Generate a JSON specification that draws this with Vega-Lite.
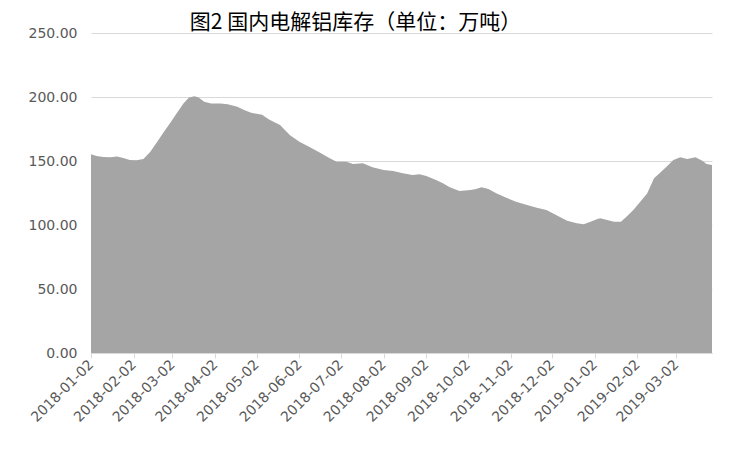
{
  "$schema": "https://vega.github.io/schema/vega-lite/v6.json",
  "autosize": "none",
  "width": 621,
  "height": 320,
  "padding": {"left": 91, "top": 33, "right": 28, "bottom": 97},
  "background": "white",
  "title": {
    "text": "图2  国内电解铝库存（单位：万吨）",
    "font": "Noto Sans CJK SC",
    "fontSize": 21,
    "fontWeight": "normal",
    "color": "#000000",
    "anchor": "middle",
    "frame": "group",
    "baseline": "bottom",
    "offset": 5,
    "dx": -46,
    "dy": 33
  },
  "config": {"view": {"stroke": null}},
  "data": {
    "values": [
      {"date": "2018-01-02", "value": 155.2},
      {"date": "2018-01-06", "value": 154.0},
      {"date": "2018-01-11", "value": 153.1},
      {"date": "2018-01-16", "value": 152.9},
      {"date": "2018-01-21", "value": 153.6},
      {"date": "2018-01-26", "value": 152.1},
      {"date": "2018-01-30", "value": 150.8},
      {"date": "2018-02-04", "value": 150.5},
      {"date": "2018-02-09", "value": 151.6},
      {"date": "2018-02-14", "value": 157.3},
      {"date": "2018-02-19", "value": 165.0},
      {"date": "2018-02-24", "value": 173.0},
      {"date": "2018-03-01", "value": 180.7},
      {"date": "2018-03-05", "value": 187.2},
      {"date": "2018-03-10", "value": 195.0},
      {"date": "2018-03-14", "value": 199.7},
      {"date": "2018-03-18", "value": 200.5},
      {"date": "2018-03-21", "value": 199.7},
      {"date": "2018-03-25", "value": 196.3},
      {"date": "2018-03-30", "value": 195.0},
      {"date": "2018-04-06", "value": 195.0},
      {"date": "2018-04-11", "value": 194.3},
      {"date": "2018-04-18", "value": 192.4},
      {"date": "2018-04-23", "value": 189.8},
      {"date": "2018-04-28", "value": 187.7},
      {"date": "2018-05-03", "value": 186.7},
      {"date": "2018-05-06", "value": 186.2},
      {"date": "2018-05-11", "value": 182.5},
      {"date": "2018-05-19", "value": 178.1},
      {"date": "2018-05-26", "value": 170.3},
      {"date": "2018-06-02", "value": 165.1},
      {"date": "2018-06-09", "value": 161.2},
      {"date": "2018-06-17", "value": 156.5},
      {"date": "2018-06-24", "value": 152.1},
      {"date": "2018-06-29", "value": 149.5},
      {"date": "2018-07-06", "value": 149.5},
      {"date": "2018-07-11", "value": 147.7},
      {"date": "2018-07-18", "value": 148.2},
      {"date": "2018-07-25", "value": 145.1},
      {"date": "2018-08-02", "value": 143.0},
      {"date": "2018-08-09", "value": 142.2},
      {"date": "2018-08-16", "value": 140.4},
      {"date": "2018-08-23", "value": 139.0},
      {"date": "2018-08-28", "value": 139.6},
      {"date": "2018-09-02", "value": 138.2},
      {"date": "2018-09-09", "value": 135.2},
      {"date": "2018-09-14", "value": 132.6},
      {"date": "2018-09-19", "value": 129.4},
      {"date": "2018-09-26", "value": 126.6},
      {"date": "2018-10-04", "value": 127.3},
      {"date": "2018-10-08", "value": 128.1},
      {"date": "2018-10-12", "value": 129.4},
      {"date": "2018-10-17", "value": 128.1},
      {"date": "2018-10-23", "value": 124.7},
      {"date": "2018-10-30", "value": 121.3},
      {"date": "2018-11-06", "value": 118.2},
      {"date": "2018-11-14", "value": 115.6},
      {"date": "2018-11-21", "value": 113.5},
      {"date": "2018-11-28", "value": 111.7},
      {"date": "2018-12-05", "value": 107.8},
      {"date": "2018-12-13", "value": 103.4},
      {"date": "2018-12-20", "value": 101.3},
      {"date": "2018-12-25", "value": 100.5},
      {"date": "2018-12-30", "value": 102.6},
      {"date": "2019-01-04", "value": 104.7},
      {"date": "2019-01-06", "value": 105.2},
      {"date": "2019-01-11", "value": 103.9},
      {"date": "2019-01-16", "value": 102.6},
      {"date": "2019-01-21", "value": 102.6},
      {"date": "2019-01-25", "value": 106.5},
      {"date": "2019-01-30", "value": 111.7},
      {"date": "2019-02-04", "value": 118.2},
      {"date": "2019-02-09", "value": 124.7},
      {"date": "2019-02-14", "value": 136.5},
      {"date": "2019-02-18", "value": 140.4},
      {"date": "2019-02-23", "value": 145.6},
      {"date": "2019-02-28", "value": 150.8},
      {"date": "2019-03-05", "value": 152.9},
      {"date": "2019-03-10", "value": 151.6},
      {"date": "2019-03-16", "value": 152.9},
      {"date": "2019-03-21", "value": 150.2},
      {"date": "2019-03-24", "value": 147.7},
      {"date": "2019-03-28", "value": 146.9}
    ]
  },
  "mark": {"type": "area", "color": "#a5a5a5", "interpolate": "linear"},
  "encoding": {
    "x": {
      "field": "date",
      "type": "temporal",
      "scale": {
        "type": "utc",
        "domain": [
          {"year": 2018, "month": 1, "date": 2, "utc": true},
          {"year": 2019, "month": 3, "date": 28, "utc": true}
        ],
        "nice": false
      },
      "axis": {
        "title": null,
        "grid": false,
        "values": [
          {"year": 2018, "month": 1, "date": 2, "utc": true},
          {"year": 2018, "month": 2, "date": 2, "utc": true},
          {"year": 2018, "month": 3, "date": 2, "utc": true},
          {"year": 2018, "month": 4, "date": 2, "utc": true},
          {"year": 2018, "month": 5, "date": 2, "utc": true},
          {"year": 2018, "month": 6, "date": 2, "utc": true},
          {"year": 2018, "month": 7, "date": 2, "utc": true},
          {"year": 2018, "month": 8, "date": 2, "utc": true},
          {"year": 2018, "month": 9, "date": 2, "utc": true},
          {"year": 2018, "month": 10, "date": 2, "utc": true},
          {"year": 2018, "month": 11, "date": 2, "utc": true},
          {"year": 2018, "month": 12, "date": 2, "utc": true},
          {"year": 2019, "month": 1, "date": 2, "utc": true},
          {"year": 2019, "month": 2, "date": 2, "utc": true},
          {"year": 2019, "month": 3, "date": 2, "utc": true}
        ],
        "labelExpr": "utcFormat(datum.value, '%Y-%m-%d')",
        "labelAngle": -45,
        "labelAlign": "right",
        "labelBaseline": "middle",
        "labelFont": "DejaVu Sans",
        "labelFontSize": 14,
        "labelColor": "#595959",
        "labelPadding": 4,
        "labelOverlap": false,
        "labelFlush": false,
        "domainColor": "#d9d9d9",
        "domainWidth": 1,
        "tickColor": "#d9d9d9",
        "tickSize": 5
      }
    },
    "y": {
      "field": "value",
      "type": "quantitative",
      "scale": {"domain": [0, 250], "nice": false},
      "axis": {
        "title": null,
        "values": [0, 50, 100, 150, 200, 250],
        "format": ".2f",
        "domain": false,
        "ticks": false,
        "gridColor": "#d9d9d9",
        "gridWidth": 1,
        "labelFont": "DejaVu Sans",
        "labelFontSize": 14,
        "labelColor": "#595959",
        "labelPadding": 14
      }
    }
  }
}
